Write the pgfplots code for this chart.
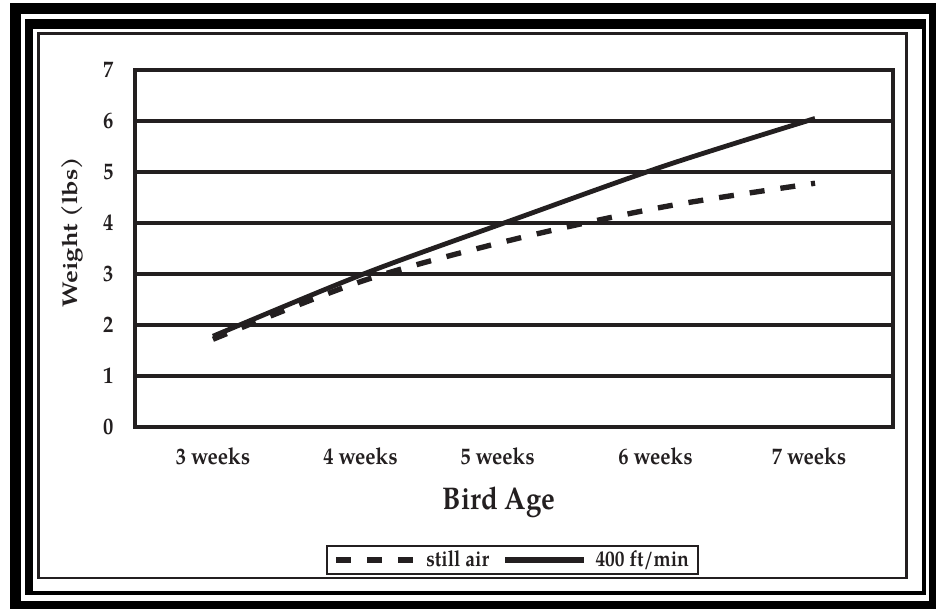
\documentclass[border=0pt]{standalone}
\usepackage{fontspec}
\setmainfont{TeX Gyre Pagella}[FakeStretch=0.88]
\newfontfamily\ylabfont{TeX Gyre Pagella}[FakeStretch=1.2]
\usepackage{pgfplots}
\pgfplotsset{compat=1.18}
\definecolor{ink}{RGB}{35,31,32}

\pgfplotstableread{
x still fast
0 1.72 1.78
1 2.87 3.00
2 3.68 4.07
3 4.32 5.12
4 4.78 6.05
}\datatable

\begin{document}
\begin{tikzpicture}
\useasboundingbox (0pt,0pt) rectangle (702pt,456pt);
\begin{scope}[x=0.75pt,y=0.75pt]
\clip (0,0) rectangle (936,608);
\fill[white] (0,0) rectangle (936,608);
\fill[black] (10,-10) rectangle (950,605);
\fill[white] (21,7) rectangle (929,594);
\fill[black] (25,13) rectangle (926,589);
\fill[white] (33,17) rectangle (922,579);
\draw[line width=1.9pt, ink] (38.5,30) rectangle (906.5,574.5);
\end{scope}
\begin{axis}[
 at={(101.25pt,135.75pt)}, anchor=south west,
 scale only axis, width=568.5pt, height=267.75pt,
 xmin=-0.518, xmax=4.518, ymin=0, ymax=7,
 ytick={0,...,7},
 xtick={0,0.98,1.89,2.94,3.96},
 xticklabels={3 weeks,4 weeks,5 weeks,6 weeks,7 weeks},
 major tick length=0pt,
 ymajorgrids, grid style={line width=2.4pt, color=ink},
 axis line style={line width=3pt, color=ink},
 /pgf/number format/assume math mode=true,
 ticklabel style={font=\fontsize{17.5}{20}\selectfont\bfseries, text=ink},
 yticklabel style={anchor=east, inner sep=0pt, xshift=-16pt},
 xticklabel style={anchor=north, inner sep=0pt, yshift=-15pt},
 xlabel={Bird Age}, ylabel={Weight (lbs)},
 xlabel style={at={(axis description cs:0.48,-0.21)}, anchor=center, font=\fontsize{23.5}{26}\selectfont\bfseries, text=ink},
 ylabel style={at={(axis description cs:-0.082,0.546)}, anchor=center, font=\ylabfont\fontsize{16}{18}\selectfont\bfseries, text=ink},
 legend columns=2,
 legend style={at={(axis description cs:0.498,-0.3725)}, anchor=center, draw=ink, line width=1.5pt,
   font=\fontsize{16.5}{19}\selectfont\bfseries, text=ink, inner xsep=5pt, inner ysep=2pt,
   /tikz/every odd column/.append style={column sep=5pt},
   /tikz/every even column/.append style={column sep=8pt}},
 legend image code/.code={\draw[#1, line width=3.8pt] (0pt,0pt) -- (59pt,0pt);},
]
\addplot[ink, line width=4pt, dash pattern=on 11.25pt off 12pt, smooth] table[x=x,y=still]{\datatable};
\addlegendentry{still air}
\addplot[ink, line width=3.6pt, smooth] table[x=x,y=fast]{\datatable};
\addlegendentry{400 ft/min}
\end{axis}
\end{tikzpicture}
\end{document}
